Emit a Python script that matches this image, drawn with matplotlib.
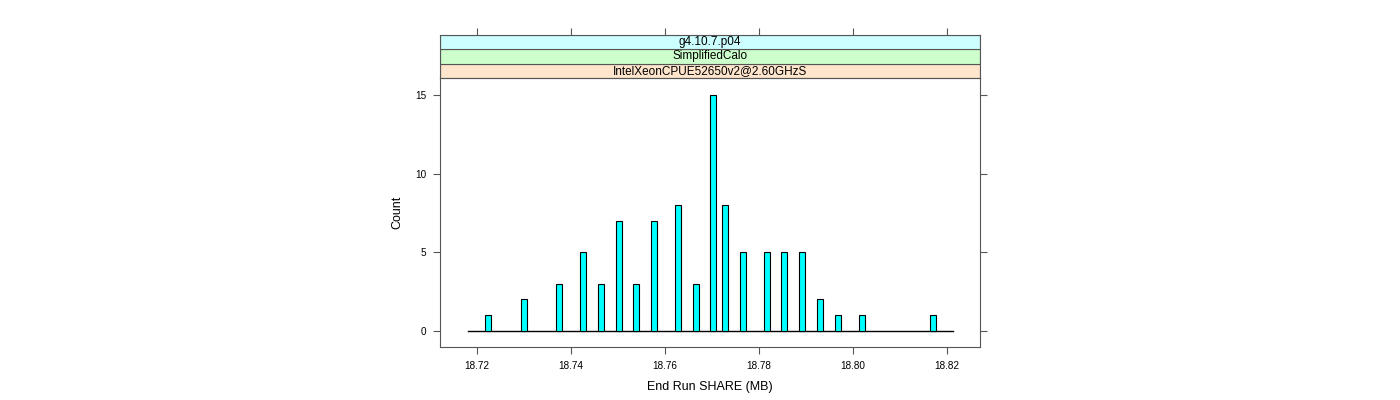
import matplotlib
matplotlib.use("Agg")
import matplotlib.pyplot as plt
from matplotlib.patches import Rectangle

# Histogram bins (bin centre, count)
share_mb = [18.7224, 18.7300, 18.7375, 18.7426, 18.7463, 18.7501, 18.7539,
            18.7577, 18.7627, 18.7665, 18.7702, 18.7728, 18.7765, 18.7816,
            18.7854, 18.7892, 18.7929, 18.7967, 18.8018, 18.8169]
counts = [1, 2, 3, 5, 3, 7, 3, 7, 8, 3, 15, 8, 5, 5, 5, 5, 2, 1, 1, 1]
bin_width = 0.00128
hist_range = [18.7181, 18.8213]

x_ticks = [18.72, 18.74, 18.76, 18.78, 18.80, 18.82]
x_ticklabels = ["18.72", "18.74", "18.76", "18.78", "18.80", "18.82"]
y_ticks = [0, 5, 10, 15]

strip_labels = ["IntelXeonCPUE52650v2@2.60GHzS", "SimplifiedCalo", "g4.10.7.p04"]
strip_colors = ["#ffe5cc", "#ccffcc", "#ccffff"]

plt.rcParams["font.family"] = ["Liberation Sans", "DejaVu Sans"]
frame_col = "#555555"

fig = plt.figure(figsize=(14, 4), dpi=100)
ax = fig.add_axes([440 / 1400, 1 - 347 / 400, 540 / 1400, 269 / 400])

# empty bins give the flat baseline
ax.plot(hist_range, [0, 0], color="black", lw=1.0, zorder=2)
ax.bar(share_mb, counts, width=bin_width, color="#00ffff",
       edgecolor="black", linewidth=0.8, zorder=3)

ax.set_xlim(18.7121, 18.8270)
ax.set_ylim(-1.02, 16.08)
ax.set_xticks(x_ticks)
ax.set_xticklabels(x_ticklabels)
ax.set_yticks(y_ticks)
ax.tick_params(axis="both", direction="out", length=5, width=0.8,
               color=frame_col, labelsize=7.2, pad=5)
ax.tick_params(axis="y", right=True)
for sp in ax.spines.values():
    sp.set_color(frame_col)
    sp.set_linewidth(0.8)
ax.set_xlabel("End Run SHARE (MB)", fontsize=9, labelpad=7)
ax.set_ylabel("Count", fontsize=9, labelpad=8)

# strips on top of the panel
sax = fig.add_axes([440 / 1400, 1 - 78 / 400, 540 / 1400, 43 / 400])
sax.set_xlim(ax.get_xlim())
sax.set_ylim(0, 3)
for i, (lab, col) in enumerate(zip(strip_labels, strip_colors)):
    sax.add_patch(Rectangle((0, i / 3), 1, 1 / 3, transform=sax.transAxes,
                            facecolor=col, edgecolor=frame_col, lw=0.8))
    sax.text(0.5, (i + 0.5) / 3, lab, transform=sax.transAxes,
             ha="center", va="center", fontsize=8.5)
sax.set_xticks(x_ticks)
sax.set_yticks([])
sax.tick_params(axis="x", bottom=False, top=True, labelbottom=False,
                direction="out", length=5, width=0.8, color=frame_col)
for sp in sax.spines.values():
    sp.set_color(frame_col)
    sp.set_linewidth(0.8)

fig.savefig("out.png", dpi=100)
